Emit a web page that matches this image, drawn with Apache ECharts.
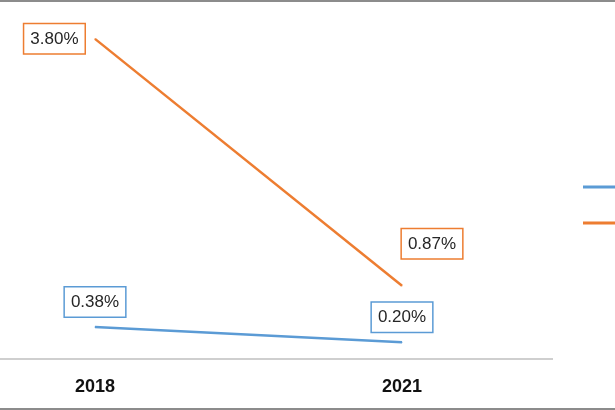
<!DOCTYPE html>
<html>
<head>
<meta charset="utf-8">
<script src="https://cdn.jsdelivr.net/npm/echarts@6/dist/echarts.min.js"></script>
<style>html,body{margin:0;padding:0;background:#fff}#c{width:615px;height:410px}</style>
</head>
<body>
<div id="c"></div>
<script>
const categories = ['2018', '2021'];
const seriesNames = ['Series1', 'Series2'];
const blueValues = [0.38, 0.20];
const orangeValues = [3.80, 0.87];

const BLUE = '#5B9BD5', ORANGE = '#ED7D31';
const FONT = 'Liberation Sans, Arial, sans-serif';

function boxLabel(color, extra) {
  return Object.assign({
    show: true,
    formatter: p => p.value.toFixed(2) + '%',
    fontFamily: FONT, fontSize: 17, color: '#262626',
    backgroundColor: '#fff', borderColor: color, borderWidth: 1.5,
    padding: [6, 6, 5, 6], lineHeight: 18
  }, extra);
}

const chart = echarts.init(document.getElementById('c'), null, {renderer: 'canvas'});
chart.setOption({
  animation: false,
  grid: {left: 95, right: 213, top: 22, bottom: 51},
  xAxis: {
    type: 'category', data: categories, boundaryGap: false,
    axisLine: {show: false}, axisTick: {show: false}, splitLine: {show: false},
    axisLabel: {fontFamily: FONT, fontWeight: 'bold', fontSize: 18, color: '#111', margin: 19}
  },
  yAxis: {type: 'value', min: 0, max: 4, show: false},
  legend: {
    orient: 'vertical', left: 578, top: 175, itemGap: 22,
    icon: 'rect', itemWidth: 40, itemHeight: 3,
    textStyle: {fontSize: 14, lineHeight: 14, fontFamily: FONT, color: '#333'},
    data: seriesNames
  },
  graphic: [
    {type: 'line', shape: {x1: 0, y1: 359, x2: 553, y2: 359}, style: {stroke: '#bfbfbf', lineWidth: 1.5}, z: 1},
    {type: 'line', shape: {x1: 0, y1: 1, x2: 615, y2: 1}, style: {stroke: '#8c8c8c', lineWidth: 2}},
    {type: 'line', shape: {x1: 0, y1: 409, x2: 615, y2: 409}, style: {stroke: '#8c8c8c', lineWidth: 2}}
  ],
  series: [
    {
      name: seriesNames[0], type: 'line', data: blueValues,
      symbol: 'circle', symbolSize: 1,
      lineStyle: {color: BLUE, width: 2.5}, itemStyle: {color: BLUE},
      label: boxLabel(BLUE, {position: 'top', distance: 10}),
      z: 3
    },
    {
      name: seriesNames[1], type: 'line',
      data: [
        {value: orangeValues[0], label: boxLabel(ORANGE, {position: 'left', distance: 10})},
        {value: orangeValues[1], label: boxLabel(ORANGE, {position: 'top', distance: 0, offset: [30, -27]})}
      ],
      symbol: 'circle', symbolSize: 1,
      lineStyle: {color: ORANGE, width: 2.5}, itemStyle: {color: ORANGE},
      z: 3
    }
  ]
});
</script>
</body>
</html>
